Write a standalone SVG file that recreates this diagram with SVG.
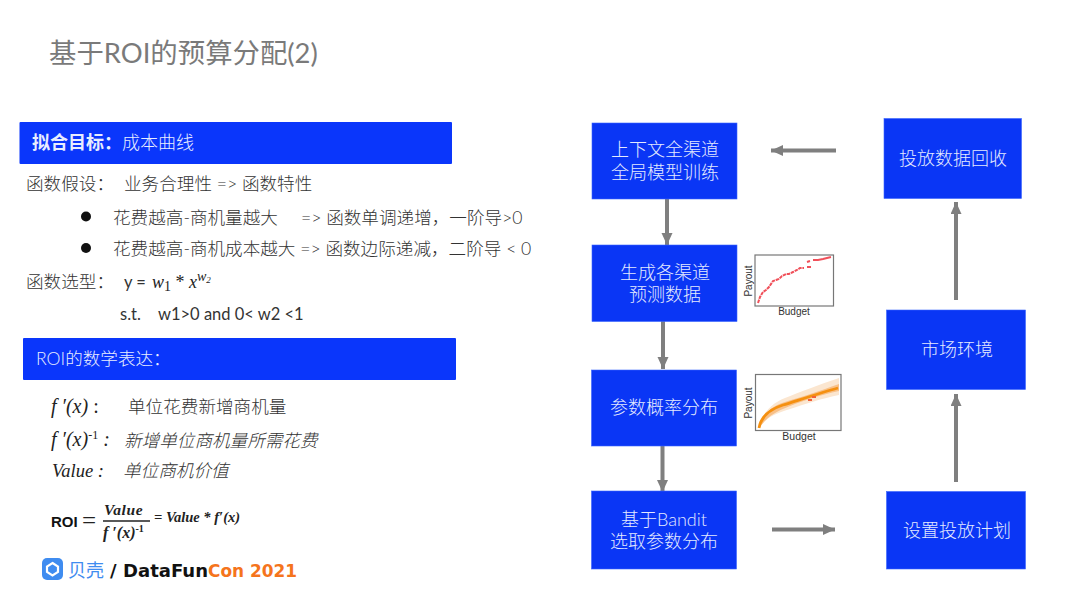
<svg xmlns="http://www.w3.org/2000/svg" width="1080" height="608" viewBox="0 0 1080 608">
<style>
text{font-family:"Liberation Sans","Noto Sans CJK SC",sans-serif;fill:#404040}
.cjk{font-family:"Lato","Noto Sans CJK SC",sans-serif;font-weight:300}
.body{font-size:17.600px;fill:#333}
.lat{font-family:"Lato","Liberation Sans",sans-serif;font-size:16.500px;fill:#333}
.node{fill:#0a36f5;stroke:#3a66ff;stroke-width:.6}
.nt{font-family:"Lato","Noto Sans CJK SC",sans-serif;font-size:18px;font-weight:300;fill:#e4eaff;text-anchor:middle}
.m{font-family:"Liberation Serif","DejaVu Serif",serif;font-style:italic;fill:#222}
.mb{font-family:"Liberation Serif","DejaVu Serif",serif;font-style:italic;font-weight:700;fill:#222}
.ax{font-family:"Liberation Sans",sans-serif;fill:#333;font-size:10px}
.plot{fill:#fff;stroke:#777;stroke-width:1.2}
.conn{stroke:#7f7f7f;stroke-width:4;fill:none}
.rd{fill:#f0505a}
</style>
<defs>
<marker id="ah" markerUnits="userSpaceOnUse" markerWidth="13" markerHeight="12" refX="12" refY="5.500" orient="auto"><path d="M0 0L12 5.500L0 11Z" fill="#7f7f7f"/></marker>
</defs>
<rect width="1080" height="608" fill="#fff"/>
<text id="title" x="49" y="63" class="cjk" style="font-size:27.400px;fill:#7a7a7a;font-weight:400">基于ROI的预算分配(2)</text>

<g id="header-fit">
<rect x="19.500" y="122" width="432.500" height="42" fill="#0a36fb" rx="1"/>
<text x="32" y="148.500" style="font-size:18px;fill:#e8edff;font-weight:700">拟合目标：<tspan font-weight="300">成本曲线</tspan></text>
</g>
<g id="fit-body">
<text x="26" y="190" class="body cjk">函数假设：</text>
<text x="124" y="190" class="body cjk">业务合理性  =&gt;  函数特性</text>
<circle cx="86" cy="216.500" r="5" fill="#111"/>
<text x="113" y="224" class="body cjk">花费越高-商机量越大</text>
<text x="301" y="224" class="body cjk">=&gt; 函数单调递增，一阶导&gt;0</text>
<circle cx="86" cy="248" r="5" fill="#111"/>
<text x="113" y="255" class="body cjk">花费越高-商机成本越大 =&gt; 函数边际递减，二阶导 &lt; 0</text>
<text x="26" y="288" class="body cjk">函数选型：</text>
<text x="124" y="288" class="lat">y =</text>
<text x="152" y="288" class="m" font-size="18">w<tspan font-size="14" dy="3" font-style="normal">1</tspan><tspan dy="-3" font-style="normal"> * </tspan>x<tspan font-size="14" dy="-7">w</tspan><tspan font-size="9" dy="2">2</tspan></text>
<text x="120" y="320" class="lat">s.t.</text>
<text x="158" y="320" class="lat">w1&gt;0 and  0&lt; w2 &lt;1</text>
</g>
<g id="header-roi">
<rect x="23" y="338" width="433" height="42" fill="#0a36fb" rx="1"/>
<text x="36" y="365" class="cjk" style="font-size:17.600px;fill:#e8edff">ROI的数学表达：</text>
</g>
<g id="roi-body">
<text x="51" y="413" class="m" font-size="20">f ′(x)<tspan font-style="normal"> :</tspan></text>
<text x="128" y="413" class="body cjk">单位花费新增商机量</text>
<text x="51" y="446" class="m" font-size="20">f ′(x)<tspan font-size="12" dy="-7" font-style="normal">-1</tspan><tspan dy="7"> :</tspan></text>
<text x="124" y="447" class="body cjk" style="font-style:italic">新增单位商机量所需花费</text>
<text x="52" y="477" class="m" font-size="18.500">Value :</text>
<text x="123" y="477" class="body cjk" style="font-style:italic">单位商机价值</text>
<text x="51" y="527" style="font-size:15px;font-weight:700;fill:#111">ROI</text>
<text x="82" y="529" class="m" font-size="25" style="font-style:normal">=</text>
<text x="104" y="515" class="mb" font-size="15.500" letter-spacing=".6">Value</text>
<line x1="103" y1="521" x2="150" y2="521" stroke="#222" stroke-width="1.300"/>
<text x="103" y="538" class="mb" font-size="16">f ′(x)<tspan font-size="10" dy="-6" font-style="normal">-1</tspan></text>
<text x="154" y="522" class="mb" font-size="14.500">= Value * f′(x)</text>
</g>
<g id="logo">
<rect x="42" y="558" width="21" height="22" rx="5" fill="#3f8cf0"/>
<path d="M52.500 563L58 566.500V572L52.500 575.500L47 572V566.500Z" fill="none" stroke="#fff" stroke-width="2.200"/>
<text x="68" y="577" class="cjk" style="font-size:18px;fill:#3f8cf0;font-weight:400">贝壳</text>
<text x="110" y="577" style="font-family:'DejaVu Sans',sans-serif;font-size:18px;font-weight:700;fill:#111">/</text>
<text x="123" y="577" textLength="85" lengthAdjust="spacingAndGlyphs" style="font-family:'DejaVu Sans',sans-serif;font-size:18px;font-weight:700;fill:#111">DataFun</text>
<text x="208" y="577" textLength="89" lengthAdjust="spacingAndGlyphs" style="font-family:'DejaVu Sans',sans-serif;font-size:18px;font-weight:700;fill:#f5741c">Con 2021</text>
</g>

<g id="connectors">
<path class="conn" marker-end="url(#ah)" d="M836 150.500H771"/>
<path class="conn" marker-end="url(#ah)" d="M667 197V245"/>
<path class="conn" marker-end="url(#ah)" d="M663 320V369"/>
<path class="conn" marker-end="url(#ah)" d="M662.500 444V492"/>
<path class="conn" marker-end="url(#ah)" d="M772 529.500H835"/>
<path class="conn" marker-end="url(#ah)" d="M956 482V394"/>
<path class="conn" marker-end="url(#ah)" d="M956 300V202"/>
</g>

<g id="n1"><rect class="node" x="592" y="123" width="145" height="76"/><text class="nt" x="665" y="156">上下文全渠道</text><text class="nt" x="665" y="179">全局模型训练</text></g>
<g id="n2"><rect class="node" x="592" y="245" width="145" height="76.500"/><text class="nt" x="665" y="279">生成各渠道</text><text class="nt" x="665" y="301">预测数据</text></g>
<g id="n3"><rect class="node" x="591.500" y="370" width="145" height="76"/><text class="nt" x="664" y="414">参数概率分布</text></g>
<g id="n4"><rect class="node" x="591.500" y="491" width="145" height="78"/><text class="nt" x="664" y="526">基于Bandit</text><text class="nt" x="664" y="548">选取参数分布</text></g>
<g id="n5"><rect class="node" x="884" y="118.500" width="137.500" height="80"/><text class="nt" x="953" y="165">投放数据回收</text></g>
<g id="n6"><rect class="node" x="886.500" y="310" width="139" height="79.500"/><text class="nt" x="957" y="356">市场环境</text></g>
<g id="n7"><rect class="node" x="886.500" y="491.500" width="139" height="77.500"/><text class="nt" x="957" y="537">设置投放计划</text></g>

<g id="plot1">
<rect class="plot" x="755" y="255" width="78.500" height="51"/>
<path d="M758 303L760 297L763 292L766 290L769 287L773 281L776 280L779 279L782 276L786 274L789 274L793 272L797 270L800 268L804 268" fill="none" stroke="#f0505a" stroke-width="2" stroke-dasharray="3.500 .8"/>
<path d="M807 262L810 261M813 260L818 260L823 259L827 258L831 257" fill="none" stroke="#f0505a" stroke-width="2"/>
<rect class="rd" x="807" y="266" width="4" height="2"/>
<text class="ax" x="794" y="314.500" text-anchor="middle">Budget</text>
<text class="ax" x="0" y="0" text-anchor="middle" transform="translate(752 281) rotate(-90)">Payout</text>
</g>
<g id="plot2">
<rect class="plot" x="755.500" y="374.500" width="85.500" height="56"/>
<path d="M759 428C761 414 772 403 785 398S820 384 839 378V395C820 399 805 404 790 409S768 416 759 428Z" fill="#fbe6d0"/>
<path d="M759 428C762 414 772 406 785 402S820 391 839 384V391C820 395 805 400 790 406S768 416 759 428Z" fill="#f8c088"/>
<path d="M759 428C761 417 770 409 783 405S820 393 838 388" fill="none" stroke="#f59010" stroke-width="2.800"/>
<rect x="812" y="396" width="4" height="2" fill="#f0603a"/>
<rect x="808" y="399" width="4" height="2" fill="#f0603a"/>
<text class="ax" x="799" y="440" text-anchor="middle" style="font-size:10.500px">Budget</text>
<text class="ax" x="0" y="0" text-anchor="middle" transform="translate(752 403) rotate(-90)">Payout</text>
</g>
</svg>
